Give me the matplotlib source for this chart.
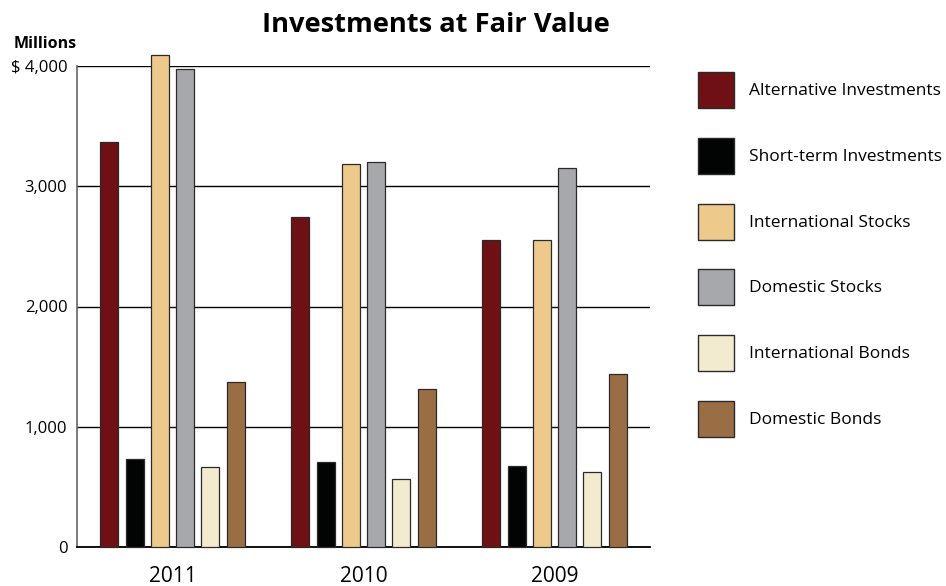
import matplotlib
matplotlib.use("Agg")
import matplotlib.pyplot as plt
from matplotlib.patches import Rectangle
import numpy as np

plt.rcParams['font.family'] = ['Open Sans', 'DejaVu Sans']

years = ["2011", "2010", "2009"]
series = ["Alternative Investments", "Short-term Investments", "International Stocks",
          "Domestic Stocks", "International Bonds", "Domestic Bonds"]
alternative = [3370, 2748, 2552]
short_term = [735, 710, 670]
intl_stocks = [4095, 3188, 2556]
dom_stocks = [3975, 3202, 3150]
intl_bonds = [666, 568, 621]
dom_bonds = [1374, 1315, 1440]
values = [alternative, short_term, intl_stocks, dom_stocks, intl_bonds, dom_bonds]
colors = ["#6e1014", "#020403", "#edc98c", "#a7a8ac", "#f3ebcf", "#9a6e45"]
yticks = [0, 1000, 2000, 3000, 4000]
ytick_labels = ["0", "1,000", "2,000", "3,000", "$ 4,000"]

W, H = 946, 586
fig = plt.figure(figsize=(W / 100, H / 100), dpi=100)
ax = fig.add_axes([77 / W, 1 - 547 / H, (650 - 77) / W, (547 - 66) / H])

x = np.arange(len(years))
step = 0.1325
width = 0.094
for i, (vals, col) in enumerate(zip(values, colors)):
    ax.bar(x + (i - 2.5) * step, vals, width=width, color=col,
           edgecolor="#2a2a2a", linewidth=0.9, clip_on=False, zorder=3)

ax.set_xlim(-0.5, 2.5)
ax.set_ylim(0, 4000)
ax.set_yticks(yticks)
ax.set_yticklabels(ytick_labels, fontsize=12)
ax.set_xticks(x)
ax.set_xticklabels(years, fontsize=15)
ax.tick_params(length=0)
ax.tick_params(axis='y', pad=7)
ax.tick_params(axis='x', pad=14)
ax.yaxis.grid(True, color="black", linewidth=1.0, zorder=1)
ax.set_axisbelow(True)
for s in ["top", "right"]:
    ax.spines[s].set_visible(False)
ax.spines["left"].set_color("#666666")
ax.spines["left"].set_linewidth(1.2)
ax.spines["bottom"].set_color("black")
ax.spines["bottom"].set_linewidth(1.3)

fig.text(436 / W, 1 - 25 / H, "Investments at Fair Value", ha="center", va="center",
         fontsize=19.6, fontweight="bold")
fig.text(14 / W, 1 - 44 / H, "Millions", ha="left", va="center",
         fontsize=11.5, fontweight="bold")

# legend
for i, (name, col) in enumerate(zip(series, colors)):
    top = 72 + i * 65.8
    fig.add_artist(Rectangle((698 / W, 1 - (top + 36) / H), 36 / W, 36 / H,
                             transform=fig.transFigure, facecolor=col,
                             edgecolor="#2a2a2a", linewidth=1.0))
    fig.text(749 / W, 1 - (top + 19) / H, name, ha="left", va="center", fontsize=12.5)

fig.savefig("out.png", dpi=100)
